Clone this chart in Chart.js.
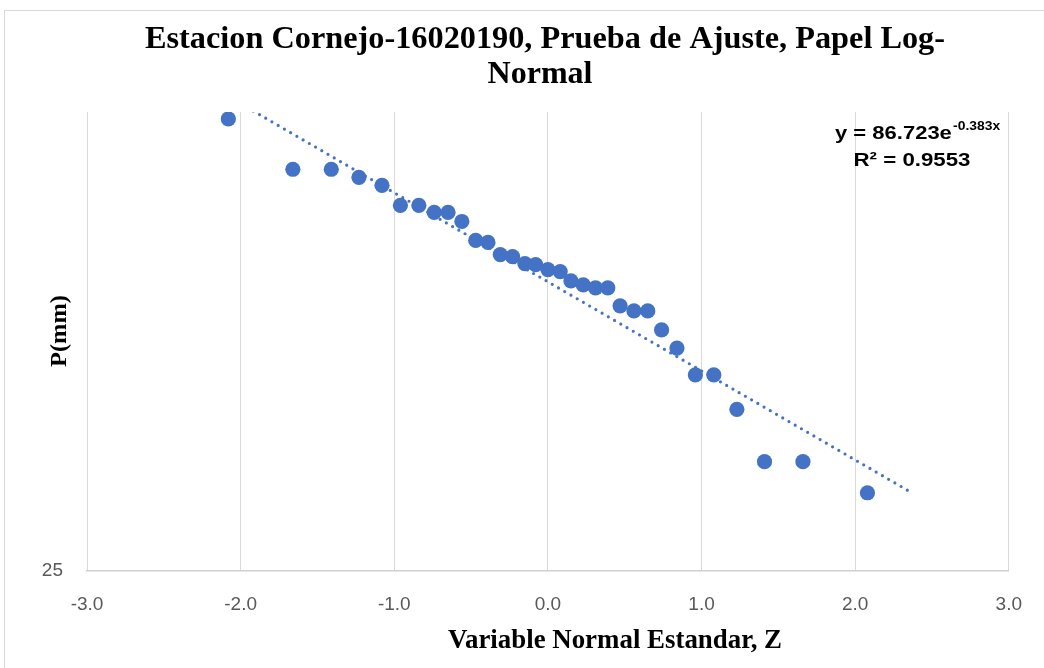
<!DOCTYPE html>
<html>
<head>
<meta charset="utf-8">
<script src="https://cdn.jsdelivr.net/npm/chart.js@4"></script>
<style>
  html, body { margin: 0; padding: 0; background: #fff; }
  #wrap { width: 1044px; height: 668px; position: relative; }
</style>
</head>
<body>
<div id="wrap"><canvas id="chart" width="1044" height="668"></canvas></div>
<script>
// Standard normal variable (Blom positions)
const zValues = [-2.08, -1.66, -1.41, -1.23, -1.08, -0.96, -0.84, -0.74, -0.65, -0.56, -0.47,
                 -0.39, -0.31, -0.23, -0.15, -0.08, 0.00, 0.08, 0.15, 0.23, 0.31, 0.39,
                 0.47, 0.56, 0.65, 0.74, 0.84, 0.96, 1.08, 1.23, 1.41, 1.66, 2.08];
// Precipitation (mm), descending
const pValues = [174.7, 140.7, 140.7, 135.9, 131.3, 120.5, 120.5, 116.9, 116.9, 112.4, 103.6,
                 102.7, 97.5, 96.6, 93.8, 93.4, 91.4, 90.6, 87.1, 85.6, 84.5, 84.5,
                 78.2, 76.5, 76.5, 70.5, 65.2, 58.1, 58.1, 50.1, 40.0, 40.0, 35.0];
const xTicks = [-3, -2, -1, 0, 1, 2, 3];
const yTicks = [25];

// Exponential trendline shown on the chart: y = 86.723 e^(-0.383x)
const trendA = 86.723;
const trendB = -0.383;
const trendR2 = 0.9553;
const trendX = [-2.08, 2.34];

const blue = '#4472C4';
const grid = '#d9d9d9';
const tickColor = '#595959';

const points = zValues.map((z, i) => ({ x: z, y: pValues[i] }));
const trend = trendX.map(x => ({ x: x, y: trendA * Math.exp(trendB * x) }));

// draw text squeezed/stretched to a given width
function fitText(ctx, text, cx, y, width) {
    const w = ctx.measureText(text).width;
    ctx.save();
    ctx.translate(cx, y);
    ctx.scale(width / w, 1);
    ctx.textAlign = 'center';
    ctx.fillText(text, 0, 0);
    ctx.restore();
}

const labels = {
    id: 'labels',
    afterDraw(chart) {
        const ctx = chart.ctx;
        ctx.save();
        // outer chart border
        ctx.strokeStyle = grid;
        ctx.lineWidth = 1;
        ctx.strokeRect(4.5, 10.5, 1100, 700);

        ctx.fillStyle = '#000';
        ctx.textBaseline = 'alphabetic';
        ctx.font = 'bold 31px "Liberation Serif", "Times New Roman", serif';
        fitText(ctx, 'Estacion Cornejo-16020190, Prueba de Ajuste, Papel Log-', 545, 48, 800);
        fitText(ctx, 'Normal', 540, 83, 105);

        ctx.font = 'bold 27px "Liberation Serif", "Times New Roman", serif';
        fitText(ctx, 'Variable Normal Estandar, Z', 615, 648, 334);

        ctx.save();
        ctx.translate(66, 331);
        ctx.rotate(-Math.PI / 2);
        ctx.font = 'bold 24px "Liberation Serif", "Times New Roman", serif';
        fitText(ctx, 'P(mm)', 0, 0, 72);
        ctx.restore();

        // trendline equation
        const main = 'y = ' + trendA.toFixed(3) + 'e';
        const sup = trendB.toFixed(3) + 'x';
        ctx.font = 'bold 19px "Liberation Sans", Arial, sans-serif';
        const wMain = ctx.measureText(main).width;
        ctx.font = 'bold 12px "Liberation Sans", Arial, sans-serif';
        const wSup = ctx.measureText(sup).width;
        const k = 164 / (wMain + wSup);
        ctx.save();
        ctx.translate(835, 139);
        ctx.scale(k, 1);
        ctx.textAlign = 'left';
        ctx.font = 'bold 19px "Liberation Sans", Arial, sans-serif';
        ctx.fillText(main, 0, 0);
        ctx.font = 'bold 12px "Liberation Sans", Arial, sans-serif';
        ctx.fillText(sup, wMain + 1, -9);
        ctx.restore();

        ctx.font = 'bold 19px "Liberation Sans", Arial, sans-serif';
        fitText(ctx, 'R\u00B2 = ' + trendR2.toFixed(4), 912, 166, 117);
        ctx.restore();
    }
};

new Chart(document.getElementById('chart'), {
    type: 'scatter',
    data: {
        datasets: [
            {
                type: 'line',
                label: 'Exponencial',
                data: trend,
                borderColor: blue,
                borderWidth: 3.2,
                borderDash: [0, 7.2],
                borderCapStyle: 'round',
                pointRadius: 0,
                fill: false,
                order: 0
            },
            {
                label: 'P(mm)',
                data: points,
                backgroundColor: blue,
                borderColor: blue,
                borderWidth: 0,
                pointRadius: 7.6,
                order: 1
            }
        ]
    },
    options: {
        responsive: false,
        animation: false,
        layout: { padding: { top: 112, right: 33, bottom: 0, left: 0 } },
        plugins: {
            legend: { display: false },
            tooltip: { enabled: false },
            title: { display: false }
        },
        scales: {
            x: {
                type: 'linear',
                min: -3,
                max: 3,
                afterBuildTicks: s => { s.ticks = xTicks.map(v => ({ value: v })); },
                afterFit: s => { s.height = 97; },
                grid: { color: grid, lineWidth: 1, drawTicks: false },
                border: { color: '#cfcfcf', width: 1.5 },
                ticks: {
                    color: tickColor,
                    padding: 22,
                    font: { size: 19, family: '"Liberation Sans", Arial, sans-serif' },
                    callback: v => v.toFixed(1)
                }
            },
            y: {
                type: 'logarithmic',
                min: 25,
                max: 180,
                afterBuildTicks: s => { s.ticks = yTicks.map(v => ({ value: v })); },
                afterFit: s => { s.width = 87; },
                grid: { display: false, drawTicks: false },
                border: { display: false },
                ticks: {
                    color: tickColor,
                    padding: 24,
                    font: { size: 19, family: '"Liberation Sans", Arial, sans-serif' },
                    callback: v => String(v)
                }
            }
        }
    },
    plugins: [labels]
});
</script>
</body>
</html>
